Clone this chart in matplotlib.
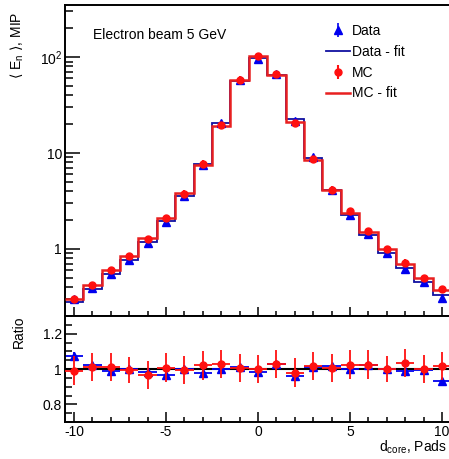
import matplotlib
matplotlib.use("Agg")
import matplotlib.pyplot as plt
from matplotlib.ticker import LogLocator, NullFormatter, MultipleLocator
import numpy as np

plt.rcParams["font.family"] = ["Liberation Sans", "DejaVu Sans"]
plt.rcParams["axes.unicode_minus"] = False

# bin centres, d_core in pads
d_core = list(range(-10, 11))

# fitted histograms (step lines)
data_fit = [0.28, 0.38, 0.55, 0.77, 1.18, 1.95, 3.6, 7.7, 20.5, 57, 97,
            65, 22.5, 8.9, 4.1, 2.25, 1.39, 0.90, 0.63, 0.45, 0.33]
mc_fit = [0.30, 0.42, 0.60, 0.85, 1.31, 2.09, 3.8, 7.6, 19.1, 58, 103,
          65, 21, 8.5, 4.15, 2.4, 1.5, 0.99, 0.70, 0.50, 0.37]

# measured points
data_pts = [0.30, 0.39, 0.55, 0.77, 1.16, 1.89, 3.6, 7.55, 20.5, 57.6, 95.5,
            67, 21.6, 9.0, 4.16, 2.25, 1.42, 0.90, 0.62, 0.45, 0.31]
mc_pts = [0.30, 0.42, 0.60, 0.85, 1.26, 2.10, 3.78, 7.75, 19.7, 58.3, 103,
          67, 20.6, 8.6, 4.17, 2.46, 1.54, 0.99, 0.72, 0.50, 0.38]

# ratio panel
ratio_data = [1.075, 1.02, 0.99, 1.0, 0.985, 0.965, 1.0, 0.98, 1.0, 1.01, 0.985,
              1.03, 0.96, 1.01, 1.015, 1.0, 1.02, 1.0, 0.99, 0.995, 0.93]
ratio_mc = [0.99, 1.01, 1.01, 0.995, 0.965, 1.008, 0.995, 1.02, 1.03, 1.005, 1.0,
            1.03, 0.98, 1.015, 1.005, 1.025, 1.025, 1.0, 1.035, 1.0, 1.015]
err_data = [0.02, 0.02, 0.02, 0.02, 0.02, 0.02, 0.02, 0.02, 0.02, 0.02, 0.02,
            0.02, 0.02, 0.02, 0.02, 0.02, 0.02, 0.02, 0.02, 0.02, 0.02]
err_mc = [0.083, 0.08, 0.08, 0.075, 0.08, 0.08, 0.08, 0.08, 0.08, 0.08, 0.08,
          0.08, 0.08, 0.08, 0.08, 0.08, 0.08, 0.075, 0.08, 0.08, 0.08]

BLUE = "#0000ee"
BLUE_FIT = "#1010a0"
RED = "#ff1010"
RED_FIT = "#e82020"

edges = np.arange(-10.5, 11.0, 1.0)
x = np.array(d_core)

fig = plt.figure(figsize=(4.49, 4.59), dpi=100)
ax = fig.add_axes([0.1443, 0.3115, 0.8606, 0.6776])
axr = fig.add_axes([0.1443, 0.0806, 0.8606, 0.2309], sharex=ax)

# --- main panel ---
ax.stairs(data_fit, edges, baseline=None, color=BLUE_FIT, lw=1.3, zorder=2)
ax.stairs(mc_fit, edges, baseline=None, color=RED_FIT, lw=1.8, zorder=3)
h_data = ax.errorbar(x, data_pts, yerr=np.array(data_pts) * np.array(err_data),
                     fmt="^", color=BLUE, ms=5.8, elinewidth=1.2, capsize=0,
                     zorder=4)
h_mc = ax.errorbar(x, mc_pts, yerr=np.array(mc_pts) * np.array(err_mc),
                   fmt="o", color=RED, ms=5.0, elinewidth=1.5, capsize=0,
                   zorder=5)
l_data, = ax.plot([], [], color=BLUE_FIT, lw=1.3)
l_mc, = ax.plot([], [], color=RED_FIT, lw=1.8)

ax.set_yscale("log")
ax.set_ylim(0.2, 350)
ax.set_xlim(-10.5, 10.5)
ax.set_yticks([1, 10, 100])
ax.set_yticklabels(["1", "10", r"10$^\mathregular{2}$"])
ax.yaxis.set_minor_locator(LogLocator(base=10, subs=np.arange(2, 10)))
ax.yaxis.set_minor_formatter(NullFormatter())
ax.xaxis.set_major_locator(MultipleLocator(5))
ax.xaxis.set_minor_locator(MultipleLocator(1))
ax.tick_params(axis="x", labelbottom=False)
ax.tick_params(which="both", direction="in", top=False, right=False,
               width=1.1, labelsize=10, pad=2)
ax.tick_params(axis="y", which="major", length=11)
ax.tick_params(axis="y", which="minor", length=5.8)
ax.tick_params(axis="x", which="major", length=6.5)
ax.tick_params(axis="x", which="minor", length=3.6)
for s in ax.spines.values():
    s.set_linewidth(1.4)

ax.text(0.074, 0.9035, "Electron beam 5 GeV", transform=ax.transAxes,
        ha="left", va="center", fontsize=10)

ax.legend([h_data, l_data, h_mc, l_mc], ["Data", "Data - fit", "MC", "MC - fit"],
          loc="upper left", bbox_to_anchor=(0.676, 0.94), frameon=False,
          fontsize=10, handlelength=1.75, handletextpad=0.1,
          borderpad=0, borderaxespad=0, labelspacing=0.5)

fig.text(0.038, 1 - 12 / 459, r"$\langle$ E$_\mathregular{n}$ $\rangle$, MIP",
         rotation=90, ha="center", va="top", fontsize=10)

# --- ratio panel ---
axr.axhline(1.0, color="black", lw=1.5, zorder=1)
axr.errorbar(x, ratio_data, xerr=0.5, yerr=err_data, fmt="^", color=BLUE,
             ms=5.8, elinewidth=1.3, capsize=0, zorder=2)
axr.errorbar(x, ratio_mc, xerr=0.5, yerr=err_mc, fmt="o", color=RED,
             ms=5.0, elinewidth=1.3, capsize=0, zorder=3)
axr.set_ylim(0.7, 1.3)
axr.set_yticks([0.8, 1.0, 1.2])
axr.set_yticklabels(["0.8", "1", "1.2"])
axr.yaxis.set_minor_locator(MultipleLocator(0.05))
axr.tick_params(which="both", direction="in", top=False, right=False,
                width=1.1, labelsize=10, pad=2)
axr.tick_params(axis="y", which="major", length=8.6)
axr.tick_params(axis="y", which="minor", length=5)
axr.tick_params(axis="x", which="major", length=7.2)
axr.tick_params(axis="x", which="minor", length=3.6)
for s in axr.spines.values():
    s.set_linewidth(1.4)

fig.text(0.042, 1 - 316 / 459, "Ratio", rotation=90, ha="center", va="top",
         fontsize=10)
fig.text(447 / 449, 1 - 447 / 459, "d$_\\mathregular{core}$, Pads",
         ha="right", va="center", fontsize=10)

fig.savefig("out.png", dpi=100)
